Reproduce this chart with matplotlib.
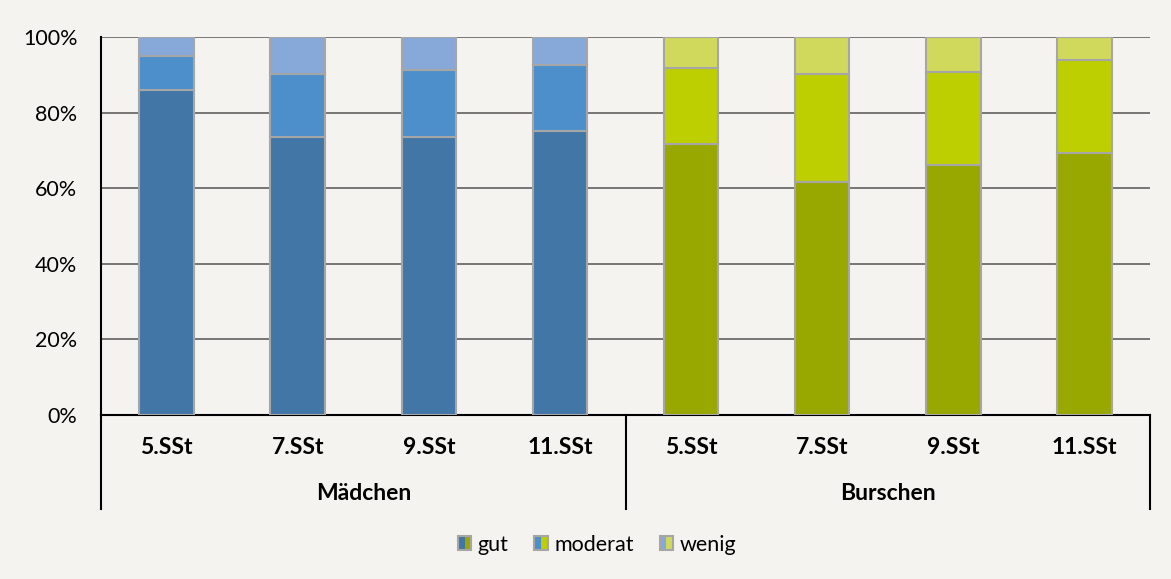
import matplotlib
matplotlib.use("Agg")
import matplotlib.pyplot as plt
from matplotlib.legend_handler import HandlerBase
from matplotlib.patches import Rectangle
from matplotlib.lines import Line2D
from matplotlib.ticker import PercentFormatter

# ===== DATA =====
groups = ["Mädchen", "Burschen"]
grades = ["5.SSt", "7.SSt", "9.SSt", "11.SSt"]
levels = ["gut", "moderat", "wenig"]

# shares in percent, per group in order of grades
gut_m = [86.0, 73.6, 73.6, 75.1]
moderat_m = [9.0, 16.6, 17.8, 17.5]
wenig_m = [5.0, 9.8, 8.6, 7.4]

gut_b = [71.7, 61.7, 66.1, 69.2]
moderat_b = [20.2, 28.5, 24.6, 24.7]
wenig_b = [8.1, 9.8, 9.3, 6.1]

# ===== STYLE =====
BG = "#f4f3ef"
EDGE = "#a6a6a6"
COLORS_M = ["#4176a6", "#4d8fcb", "#86a9da"]
COLORS_B = ["#99a800", "#bdcf00", "#d1d95c"]
FONT = "Lato"
FS = 15.5
FS_BOLD = 16.5


class SplitKey:
    def __init__(self, left, right):
        self.left = left
        self.right = right


class SplitKeyHandler(HandlerBase):
    def create_artists(self, legend, orig_handle, xdescent, ydescent,
                       width, height, fontsize, trans):
        x0, y0 = -xdescent, -ydescent
        half = width / 2
        a = Rectangle((x0, y0), half, height, facecolor=orig_handle.left,
                      edgecolor="none", transform=trans)
        b = Rectangle((x0 + half, y0), half, height, facecolor=orig_handle.right,
                      edgecolor="none", transform=trans)
        frame = Rectangle((x0, y0), width, height, facecolor="none",
                          edgecolor=EDGE, linewidth=1.5, transform=trans)
        return [a, b, frame]


plt.rcParams["font.family"] = [FONT, "DejaVu Sans"]

fig = plt.figure(figsize=(11.71, 5.79), dpi=100, facecolor=BG)
ax = fig.add_axes([101 / 1171, 1 - 415 / 579, 1049 / 1171, 378 / 579])
ax.set_facecolor(BG)

series_m = [gut_m, moderat_m, wenig_m]
series_b = [gut_b, moderat_b, wenig_b]
xs_m = list(range(len(grades)))
xs_b = [x + len(grades) for x in xs_m]

for xs, series, colors in [(xs_m, series_m, COLORS_M), (xs_b, series_b, COLORS_B)]:
    bottom = [0.0] * len(xs)
    for vals, col in zip(series, colors):
        ax.bar(xs, vals, width=0.415, bottom=bottom, color=col,
               edgecolor=EDGE, linewidth=1.5, zorder=3)
        bottom = [b + v for b, v in zip(bottom, vals)]

ax.set_xlim(-0.5, 7.5)
ax.set_ylim(0, 100)
ax.set_yticks(range(0, 101, 20))
ax.yaxis.set_major_formatter(PercentFormatter(decimals=0))
ax.tick_params(axis="y", length=0, pad=17, labelsize=FS, labelcolor="black")
ax.set_xticks([])
ax.grid(axis="y", color="#6b6b6b", linewidth=1.3, zorder=0)

for side in ["top", "right"]:
    ax.spines[side].set_visible(False)
ax.spines["left"].set_color("black")
ax.spines["left"].set_linewidth(1.5)
ax.spines["bottom"].set_color("black")
ax.spines["bottom"].set_linewidth(1.5)

# category labels below the axis
tr = ax.get_xaxis_transform()
for x, lab in zip(xs_m + xs_b, grades + grades):
    ax.text(x, -32 / 378, lab, transform=tr, ha="center", va="center",
            fontsize=FS_BOLD, fontweight="bold")
for i, g in enumerate(groups):
    ax.text(1.5 + 4 * i, -78 / 378, g, transform=tr, ha="center", va="center",
            fontsize=FS_BOLD, fontweight="bold")

# group separators
for x in [-0.5, 3.5, 7.5]:
    ax.add_line(Line2D([x, x], [0, -94 / 378], transform=tr, color="black",
                       linewidth=1.5, clip_on=False))

handles = [SplitKey(cm, cb) for cm, cb in zip(COLORS_M, COLORS_B)]
fig.legend(handles, levels, handler_map={SplitKey: SplitKeyHandler()},
           loc="center", bbox_to_anchor=(597 / 1171, 1 - 545 / 579),
           ncol=3, frameon=False, fontsize=FS, handlelength=0.62,
           handleheight=0.62, handletextpad=0.3, columnspacing=1.2)

fig.savefig("out.png", dpi=100, facecolor=BG)
